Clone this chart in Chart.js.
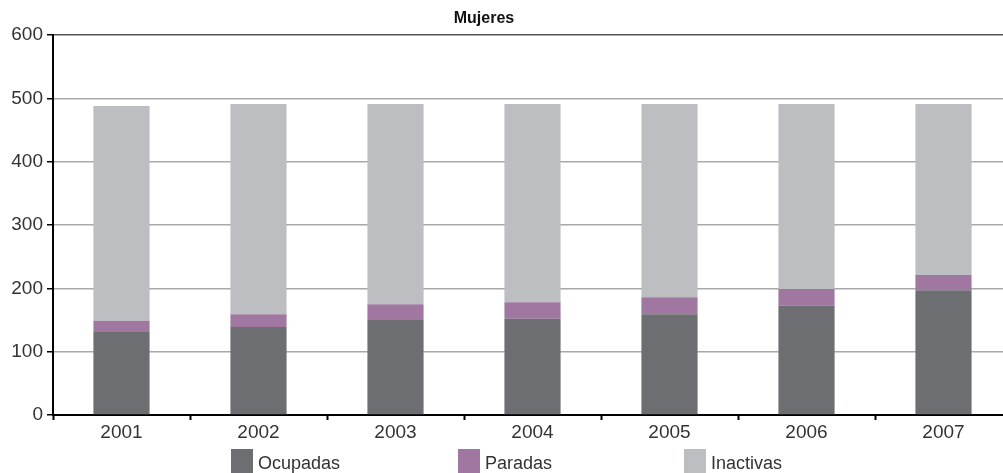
<!DOCTYPE html>
<html>
<head>
<meta charset="utf-8">
<script src="https://cdn.jsdelivr.net/npm/chart.js@4"></script>
<style>
  html, body { margin: 0; padding: 0; background: #fff; overflow: hidden; }
</style>
</head>
<body>
<canvas id="chart" width="1012" height="473"></canvas>
<script>
// Data
const years = ['2001', '2002', '2003', '2004', '2005', '2006', '2007'];
const ocupadas = [131, 139, 150, 152, 159, 173, 197];
const paradas = [18, 20, 25, 26, 27, 26, 24];
const inactivas = [339, 332, 316, 313, 305, 292, 270];

Chart.defaults.font.family = '"Liberation Sans", Arial, sans-serif';
Chart.defaults.color = '#333';

// Title and legend drawn by hand so they sit where the original has them
const extras = {
    id: 'extras',
    afterDraw(chart) {
        const ctx = chart.ctx;
        ctx.save();
        ctx.fillStyle = '#111';
        ctx.font = 'bold 16px "Liberation Sans", Arial, sans-serif';
        ctx.textAlign = 'center';
        ctx.textBaseline = 'alphabetic';
        ctx.fillText('Mujeres', 484, 23);

        const starts = [231, 458, 684];
        ctx.font = '18px "Liberation Sans", Arial, sans-serif';
        ctx.textAlign = 'left';
        chart.data.datasets.forEach((ds, i) => {
            ctx.fillStyle = ds.backgroundColor;
            ctx.fillRect(starts[i], 449, 22, 24);
            ctx.fillStyle = '#333';
            ctx.fillText(ds.label, starts[i] + 27, 469);
        });
        ctx.restore();
    }
};

const ctx = document.getElementById('chart').getContext('2d');
const chart = new Chart(ctx, {
    type: 'bar',
    data: {
        labels: years,
        datasets: [
            { label: 'Ocupadas', data: ocupadas, backgroundColor: '#6d6e71' },
            { label: 'Paradas', data: paradas, backgroundColor: '#a077a0' },
            { label: 'Inactivas', data: inactivas, backgroundColor: '#bdbec1' }
        ]
    },
    options: {
        responsive: false,
        animation: false,
        layout: { padding: { top: 35, left: 0, right: 0, bottom: 0 } },
        datasets: {
            bar: { barPercentage: 0.41, categoryPercentage: 1 }
        },
        scales: {
            x: {
                stacked: true,
                grid: {
                    drawOnChartArea: false,
                    color: '#000',
                    tickLength: 5,
                    tickWidth: 2
                },
                border: { color: '#000', width: 2 },
                ticks: { font: { size: 19 }, color: '#333', padding: 1 },
                afterFit(scale) { scale.height = 58; }
            },
            y: {
                stacked: true,
                min: 0,
                max: 600,
                grid: {
                    color: c => c.tick && c.tick.value === 600 ? '#555' : '#a8a9ab',
                    lineWidth: 1.5,
                    tickColor: '#000',
                    tickLength: 6,
                    tickWidth: 1.5
                },
                border: { color: '#000', width: 2 },
                ticks: { stepSize: 100, font: { size: 19 }, color: '#333', padding: 4 },
                afterFit(scale) { scale.width = 53; }
            }
        },
        plugins: {
            legend: { display: false },
            title: { display: false },
            tooltip: { enabled: false }
        }
    },
    plugins: [extras]
});
</script>
</body>
</html>
